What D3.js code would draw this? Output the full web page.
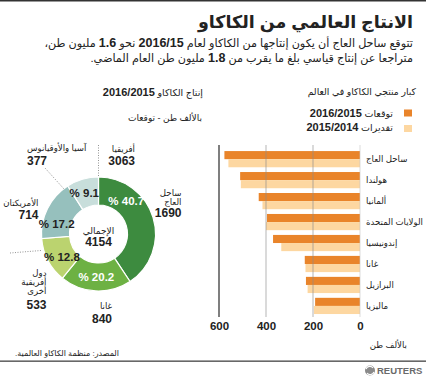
<!DOCTYPE html>
<html><head><meta charset="utf-8">
<script src="https://cdn.jsdelivr.net/npm/d3@7"></script>
<style>
body{margin:0;background:#fff}
svg{display:block}
text{font-family:"Liberation Sans","DejaVu Sans",Arial,sans-serif;fill:#222}
</style>
</head><body><script>
// ---------- DATA ----------
const barCategories = ["ساحل العاج","هولندا","ألمانيا","الولايات المتحدة","إندونيسيا","غانا","البرازيل","ماليزيا"];
const forecast1516 = [577, 510, 431, 396, 370, 235, 230, 191];
const estimate1415 = [560, 507, 415, 400, 335, 232, 223, 196];
const xTickValues = [0, 200, 400, 600];
const legendLabels = [["توقعات ", "2016/2015"], ["تقديرات ", "2015/2014"]];

const pieNames = [["ساحل","العاج"], ["غانا"], ["دول","أفريقية","أخرى"], ["الأمريكتان"], ["آسيا والأوقيانوس"]];
const pieValues = [1690, 840, 533, 714, 377];
const pieShares = [40.7, 20.2, 12.8, 17.2, 9.1];
const africaLabel = "أفريقيا";
const africaTotal = 3063;
const worldTotal = 4154;

// ---------- LAYOUT ----------
const W = 426, H = 378;
const svg = d3.select("body").append("svg").attr("width", W).attr("height", H);
svg.append("rect").attr("width", W).attr("height", H).attr("fill", "#fff");

function rtl(x, y, parts, o = {}) {
  const t = svg.append("text").attr("x", x).attr("y", y)
    .attr("direction", "rtl")
    .attr("text-anchor", o.anchor || "start")
    .attr("font-size", o.size || 10)
    .attr("font-weight", o.bold ? "bold" : "normal");
  if (o.fill) t.style("fill", o.fill);
  parts.forEach(p => {
    if (typeof p === "string") t.append("tspan").text(p);
    else t.append("tspan").attr("font-weight", "bold").attr("font-size", p.size || null).text(p.b);
  });
  return t;
}

// top rule
svg.append("rect").attr("x", 0).attr("y", 0).attr("width", W).attr("height", 1.5).attr("fill", "#333");

// title + subtitle
rtl(413, 28, ["الانتاج العالمي من الكاكاو"], {size: 17.5, bold: true});
rtl(413, 47, ["تتوقع ساحل العاج أن يكون إنتاجها من الكاكاو لعام ", {b: "2016/15", size: 12.5}, " نحو ", {b: "1.6", size: 12.5}, " مليون طن،"], {size: 11.2});
rtl(413, 61.5, ["متراجعا عن إنتاج قياسي بلغ ما يقرب من ", {b: "1.8", size: 12.5}, " مليون طن العام الماضي."], {size: 11.2});

// ---------- BAR CHART ----------
const barDark = "#e9842a", barLight = "#fdd7a1";
rtl(416, 94.5, ["كبار منتجي الكاكاو في العالم"], {size: 9.3});

// legend
[barDark, barLight].forEach((c, i) => {
  svg.append("rect").attr("x", 404).attr("y", 109.5 + i * 15.5).attr("width", 8).attr("height", 7).attr("fill", c);
  rtl(393, 116.5 + i * 14.5, [legendLabels[i][0], {b: legendLabels[i][1], size: 11}], {size: 9.5});
});

const x = d3.scaleLinear().domain([0, 600]).range([360, 219]);
const y = d3.scaleBand().domain(barCategories).range([148.7, 316.4]).paddingInner(0.227).paddingOuter(0.113);
const bh = y.bandwidth() / 2;

const bars = svg.append("g");
barCategories.forEach((c, i) => {
  bars.append("rect").attr("x", x(forecast1516[i])).attr("y", y(c))
    .attr("width", x(0) - x(forecast1516[i])).attr("height", bh).attr("fill", barDark);
  bars.append("rect").attr("x", x(estimate1415[i])).attr("y", y(c) + bh)
    .attr("width", x(0) - x(estimate1415[i])).attr("height", bh).attr("fill", barLight);
  rtl(366, y(c) + bh + 3, [c], {size: 8.6, anchor: "end"});
});

// grid lines over bars
xTickValues.forEach(v => {
  const strong = v === 600;
  svg.append("line").attr("x1", x(v)).attr("x2", x(v)).attr("y1", 145).attr("y2", 317)
    .attr("stroke", strong ? "#555" : (v === 0 ? "#c8c8c8" : "#8a8a8a"))
    .attr("stroke-opacity", strong ? 1 : 0.8)
    .attr("stroke-width", strong ? 1.5 : 0.8);
});

const ax = svg.append("g").attr("transform", "translate(0,319)")
  .call(d3.axisBottom(x).tickValues(xTickValues).tickSize(0).tickPadding(3).tickFormat(d3.format("d")));
ax.select(".domain").remove();
ax.selectAll("text").attr("font-size", 11.5).attr("font-weight", "bold")
  .style("font-family", '"Liberation Sans",Arial,sans-serif').style("fill", "#222");

rtl(407, 347.5, ["بالألف طن"], {size: 8.6});

// ---------- DONUT ----------
const cx = 98.5, cy = 234, rOut = 57, rIn = 29;
const pieColors = ["#3d8b3f", "#6db143", "#bbd36f", "#96c0bd", "#c8dedb"];
const pctFill = ["#fff", "#fff", "#222", "#222", "#222"];
const labelAngleShift = [-33, 0, -4, -13, -3]; // degrees, layout only

rtl(203, 95.5, ["إنتاج الكاكاو ", {b: "2016/2015", size: 11}], {size: 9.5});
rtl(202, 120.5, ["بالألف طن - توقعات"], {size: 9});

const pie = d3.pie().sort(null).value(d => d)(pieValues);
const arc = d3.arc().innerRadius(rIn).outerRadius(rOut);
const dg = svg.append("g").attr("transform", `translate(${cx},${cy})`);
dg.selectAll("path").data(pie).join("path")
  .attr("d", arc).attr("fill", (d, i) => pieColors[i])
  .attr("stroke", "#fff").attr("stroke-width", 1.2);

const rLab = 43;
pie.forEach((d, i) => {
  const a = (d.startAngle + d.endAngle) / 2 + labelAngleShift[i] * Math.PI / 180;
  dg.append("text").attr("x", rLab * Math.sin(a)).attr("y", -rLab * Math.cos(a) + 4)
    .attr("text-anchor", "middle").attr("font-size", 11.5).attr("font-weight", "bold")
    .style("fill", pctFill[i]).text("% " + pieShares[i].toFixed(1));
});

dg.append("text").attr("x", 0).attr("y", -0.5).attr("text-anchor", "middle").attr("font-size", 9).text("الإجمالي");
dg.append("text").attr("x", 0).attr("y", 12).attr("text-anchor", "middle").attr("font-size", 12).attr("font-weight", "bold").text(worldTotal);

// outer labels (positions relative to donut centre; layout only)
const outerPos = [
  {dx: 83, dy: -38.5, anchor: "start", gap: 2},
  {dx: 13.5, dy: 74.5, anchor: "start", gap: 2},
  {dx: -52, dy: 41.5, anchor: "start", gap: 5.5},
  {dx: -60, dy: -28, anchor: "start", gap: 1},
  {dx: -71.5, dy: -83, anchor: "end", gap: 2}
];
const lineH = [9.5, 12, 9.3, 11.5, 11.5];
pieNames.forEach((lines, i) => {
  const p = outerPos[i];
  lines.forEach((l, j) => rtl(cx + p.dx, cy + p.dy + j * lineH[i], [l], {size: 8.6, anchor: p.anchor}));
  rtl(cx + p.dx, cy + p.dy + lines.length * lineH[i] + p.gap, [String(pieValues[i])], {size: 12, bold: true, anchor: p.anchor});
});
rtl(cx + 36.5, cy - 82, [africaLabel], {size: 8.6});
rtl(cx + 36.5, cy - 69.5, [String(africaTotal)], {size: 12, bold: true});

// dotted leader lines
const dots = [
  [[0, -89], [0, -rOut]],
  [[-53.5, -66], [-34.5, -45]],
  [[-88.5, 19], [-57.5, 16.5]]
];
dots.forEach(([a, b]) => dg.append("line").attr("x1", a[0]).attr("y1", a[1]).attr("x2", b[0]).attr("y2", b[1])
  .attr("stroke", "#777").attr("stroke-width", 0.8).attr("stroke-dasharray", "1,1.5"));

// ---------- FOOTER ----------
rtl(119, 356, ["المصدر: منظمة الكاكاو العالمية."], {size: 8});
svg.append("rect").attr("x", 0).attr("y", 360.5).attr("width", W).attr("height", 1.3).attr("fill", "#444");
svg.append("circle").attr("cx", 370).attr("cy", 370.5).attr("r", 5).attr("fill", "#8a8a8a");
svg.append("path").attr("d", "M366,369 A4,4 0 0 1 373,368 M367,373 A4,4 0 0 0 374,372").attr("fill", "none").attr("stroke", "#fff").attr("stroke-width", 1.2);
svg.append("text").attr("x", 377).attr("y", 374).attr("font-size", 9.5).attr("font-weight", "bold").style("fill", "#6a6a6a").text("REUTERS");
</script></body></html>
